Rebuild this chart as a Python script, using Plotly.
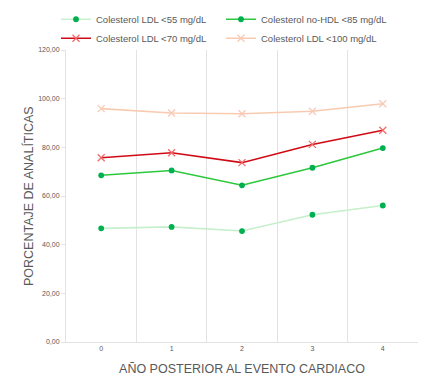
import plotly.graph_objects as go

years = ["0", "1", "2", "3", "4"]
ldl55 = [46.7, 47.3, 45.6, 52.3, 56.1]
nohdl85 = [68.5, 70.5, 64.4, 71.6, 79.7]
ldl70 = [75.7, 77.8, 73.7, 81.2, 87.0]
ldl100 = [95.9, 94.1, 93.8, 94.8, 97.9]

series = [
    ("Colesterol LDL <55 mg/dL", ldl55, "#C6EFCB", "#00B050", "circle", 4.5, "legend"),
    ("Colesterol no-HDL <85 mg/dL", nohdl85, "#2DC83C", "#00B050", "circle", 4.5, "legend2"),
    ("Colesterol LDL <70 mg/dL", ldl70, "#D00A14", "#F26B6B", "x-thin-open", 7, "legend"),
    ("Colesterol LDL <100 mg/dL", ldl100, "#F8CBB0", "#F9C9B8", "x-thin-open", 7, "legend2"),
]

fig = go.Figure()
for i, (name, vals, lc, mc, sym, ms, lg) in enumerate(series):
    fig.add_trace(go.Scatter(
        x=years, y=vals, name=name, mode="lines+markers", legend=lg, legendgroup=f"g{i}",
        line=dict(color=lc, width=1.6),
        marker=dict(color=mc, symbol=sym, size=ms, line=dict(color=mc, width=1.3)),
    ))

leg_common = dict(orientation="v", xanchor="left", xref="container", y=1.155, yanchor="top",
                  yref="paper", font=dict(size=9.5, color="#595959"), itemwidth=30,
                  bgcolor="rgba(0,0,0,0)", tracegroupgap=0)

fig.update_layout(
    width=430, height=376,
    margin=dict(l=58, r=20, t=42, b=42, autoexpand=False),
    paper_bgcolor="white", plot_bgcolor="white",
    font=dict(family="Liberation Sans, Arial, sans-serif", color="#595959"),
    separators=",.",
    showlegend=True,
    legend=dict(x=48 / 430, **leg_common),
    legend2=dict(x=213 / 430, **leg_common),
    xaxis=dict(type="category", tickson="boundaries", showgrid=True, gridcolor="#E3E3E3",
               gridwidth=1, ticks="", showline=True, linecolor="#E3E3E3",
               tickfont=dict(size=7, color="#595959"),
               title=dict(text="AÑO POSTERIOR AL EVENTO CARDIACO", font=dict(size=12.5, color="#595959"), standoff=12),
               range=[-0.5, 4.5], zeroline=False),
    yaxis=dict(range=[0, 120], dtick=20, tickformat=".2f", showgrid=False, showline=True,
               linecolor="#E3E3E3", ticks="outside", ticklen=4, tickcolor="#E3E3E3",
               tickfont=dict(size=7, color="#595959"), zeroline=False),
    annotations=[dict(text="PORCENTAJE DE ANALÍTICAS", textangle=-90, showarrow=False,
                      xref="paper", yref="paper", x=(20 - 58) / 352, y=0.5,
                      xanchor="center", yanchor="middle",
                      font=dict(size=12.5, color="#595959"))],
)

fig.write_html("out.html")
